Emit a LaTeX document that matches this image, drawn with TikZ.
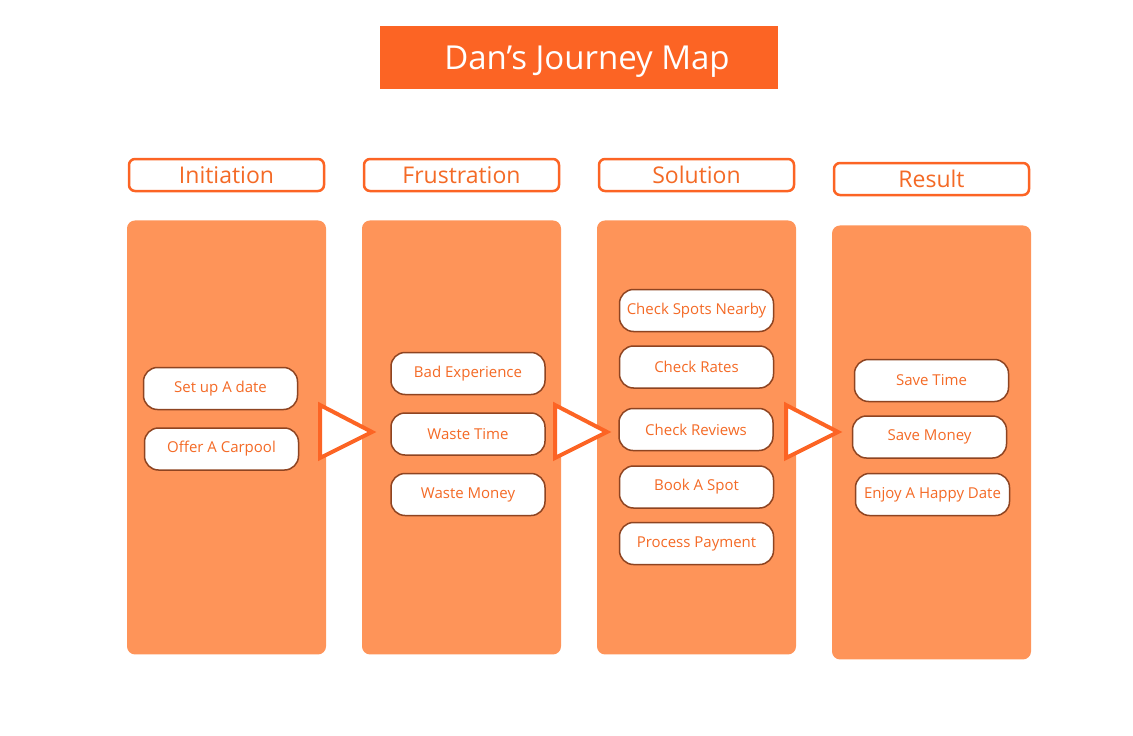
\documentclass[tikz,border=0pt]{standalone}
\usepackage{fontspec}
\setmainfont{Open Sans}
\usetikzlibrary{positioning}

\definecolor{titleorange}{HTML}{FC6424}
\definecolor{panelorange}{HTML}{FE9459}
\definecolor{pillborder}{HTML}{8E4421}
\definecolor{textorange}{HTML}{F46A26}

\tikzset{
	titlebox/.style={fill=titleorange, text=white, inner sep=0pt, text height=23pt, text depth=0pt, minimum width=398pt, minimum height=63pt, font=\fontsize{33}{40}\selectfont},
	headbox/.style={draw=titleorange, line width=2.5pt, rounded corners=6pt, fill=white, text=textorange, inner sep=0pt, minimum width=195pt, minimum height=32pt, font=\fontsize{23}{27}\selectfont},
	panel/.style={fill=panelorange, rounded corners=8pt, inner sep=0pt, minimum width=199pt, minimum height=434pt},
	pill/.style={draw=pillborder, line width=1.5pt, fill=white, rounded corners=14pt, text=textorange, inner sep=0pt, minimum width=154pt, minimum height=42pt, font=\fontsize{15}{18}\selectfont},
	flowtri/.style={draw=titleorange, line width=4pt, fill=white, line join=miter}
}

\begin{document}
\begin{tikzpicture}[x=1pt, y=-1pt]
		\useasboundingbox (0,0) rectangle (1133,736);

		\node [titlebox] (title) at (579,57.5) {\hspace{16pt}Dan’s Journey Map};

		% stage headings
		\node [headbox] (hinit) at (226.5,175) {Initiation};
		\node [headbox] (hfrus) at (461.5,175) {Frustration};
		\node [headbox] (hsol) at (696.5,175) {Solution};
		\node [headbox] (hres) at (931.5,179) {Result};

		% stage panels
		\node [panel, below=28pt of hinit] (pinit) {};
		\node [panel, below=28pt of hfrus] (pfrus) {};
		\node [panel, below=28pt of hsol] (psol) {};
		\node [panel, below=29pt of hres] (pres) {};

		% Initiation
		\node [pill] (setdate) at (220.5,388.5) {Set up A date};
		\node [pill, below=17pt of setdate, xshift=1pt] (carpool) {Offer A Carpool};

		% Frustration
		\node [pill] (badexp) at (468,373.5) {Bad Experience};
		\node [pill, below=17pt of badexp] (wastetime) {Waste Time};
		\node [pill, below=17pt of wastetime] (wastemoney) {Waste Money};

		% Solution
		\node [pill] (spots) at (696.5,310.5) {Check Spots Nearby};
		\node [pill, below=13pt of spots] (rates) {Check Rates};
		\node [pill, below=19pt of rates, xshift=-0.5pt] (reviews) {Check Reviews};
		\node [pill, below=14pt of reviews, xshift=0.5pt] (bookspot) {Book A Spot};
		\node [pill, below=13pt of bookspot] (payment) {Process Payment};

		% Result
		\node [pill] (savetime) at (931.5,380.5) {Save Time};
		\node [pill, below=13pt of savetime, xshift=-2pt] (savemoney) {Save Money};
		\node [pill, below=14pt of savemoney, xshift=3pt] (happydate) {Enjoy A Happy Date};

		% flow markers between the stages
		\draw [flowtri] (320,405) -- (372,432) -- (320,458) -- cycle;
		\draw [flowtri] (555,405) -- (607,432) -- (555,458) -- cycle;
		\draw [flowtri] (786,405) -- (838,432) -- (786,458) -- cycle;
	\end{tikzpicture}
\end{document}
